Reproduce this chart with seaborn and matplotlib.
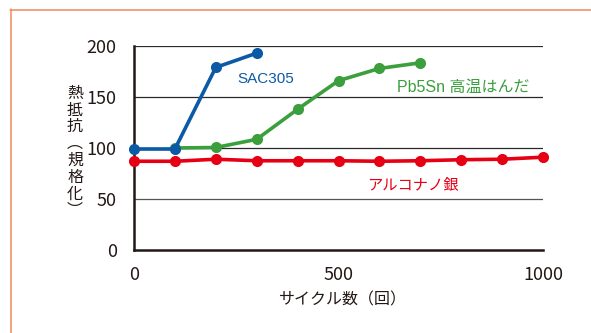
import matplotlib
matplotlib.use("Agg")
import matplotlib.pyplot as plt
from matplotlib.lines import Line2D
import seaborn as sns
import pandas as pd

# Thermal resistance (normalized) versus number of thermal cycles
sac_cycles = [0, 100, 200, 300]
sac_values = [99, 99, 179, 193]

pb_cycles = [100, 200, 300, 400, 500, 600, 700]
pb_values = [100, 100.5, 108.5, 138, 166, 178, 183.5]

ag_cycles = [0, 100, 200, 300, 400, 500, 600, 700, 800, 900, 1000]
ag_values = [87, 87, 89, 87.5, 87.5, 87.5, 87, 87.5, 88.5, 89, 91]

series_names = ["SAC305", "Pb5Sn 高温はんだ", "アルコナノ銀"]
series_colors = ["#0b5aa6", "#3a9f3c", "#e60014"]

x_ticks = [0, 500, 1000]
y_ticks = [0, 50, 100, 150, 200]
x_label = "サイクル数（回）"
y_label = "熱\n抵\n抗\n︵\n規\n格\n化\n︶"

df = pd.concat([
    pd.DataFrame({"cycles": sac_cycles, "value": sac_values, "series": series_names[0]}),
    pd.DataFrame({"cycles": pb_cycles, "value": pb_values, "series": series_names[1]}),
    pd.DataFrame({"cycles": ag_cycles, "value": ag_values, "series": series_names[2]}),
], ignore_index=True)

sns.set_style("white")
plt.rcParams["font.family"] = ["Noto Sans CJK JP", "DejaVu Sans"]

fig = plt.figure(figsize=(5.91, 3.33), dpi=100)
ax = fig.add_axes([134 / 591, 1 - 250 / 333, (543 - 134) / 591, (250 - 46) / 333])

# horizontal grid lines
for yv in y_ticks[1:]:
    ax.axhline(yv, color="#2a2a2a" if yv != 50 else "#555555", lw=0.9, zorder=0)

sns.lineplot(data=df, x="cycles", y="value", hue="series",
             hue_order=series_names, palette=series_colors,
             marker="o", markersize=8, markeredgewidth=0, linewidth=2.6,
             legend=False, ax=ax)
# SAC305 sits on top of the other two curves
for ln, z in zip(ax.lines[-3:], [5, 4, 3]):
    ln.set_clip_on(False)
    ln.set_zorder(z)

ax.set_xlim(0, 1000)
ax.set_ylim(0, 200)
ax.set_xticks(x_ticks)
ax.set_yticks(y_ticks)
ax.set_xlabel("")
ax.set_ylabel("")
for side in ["top", "right"]:
    ax.spines[side].set_visible(False)
for side in ["left", "bottom"]:
    ax.spines[side].set_color("#231815")
    ax.spines[side].set_linewidth(1.8)
ax.tick_params(axis="y", length=0, pad=12.5, labelsize=13, labelcolor="#231815")
ax.tick_params(axis="x", direction="in", length=2.5, width=1.8, color="#231815",
               pad=11.5, labelsize=13, labelcolor="#231815")

lab_font = ["Liberation Sans", "Noto Sans CJK JP"]
ax.text(237 / 591, 1 - 79 / 333, series_names[0], transform=fig.transFigure,
        color=series_colors[0], fontsize=11, family=lab_font, va="center", ha="left")
ax.text(397 / 591, 1 - 87 / 333, series_names[1], transform=fig.transFigure,
        color=series_colors[1], fontsize=11.5, family=lab_font, va="center", ha="left")
ax.text(367 / 591, 1 - 185 / 333, series_names[2], transform=fig.transFigure,
        color=series_colors[2], fontsize=11, family=lab_font, va="center", ha="left")

fig.text(343 / 591, 1 - 300 / 333, x_label, ha="center", va="center",
         fontsize=11.5, color="#231815")
fig.text(75 / 591, 1 - 152 / 333, y_label, ha="center", va="center",
         fontsize=11.5, color="#231815", linespacing=0.98)

# thin orange frame along the left and top edges
frame_color = "#f08a5d"
fig.add_artist(Line2D([10.5 / 591, 10.5 / 591], [0, 1 - 9 / 333],
                      transform=fig.transFigure, color=frame_color, lw=1.1))
fig.add_artist(Line2D([10 / 591, 1], [1 - 9.5 / 333, 1 - 9.5 / 333],
                      transform=fig.transFigure, color=frame_color, lw=1.1))

fig.savefig("out.png", dpi=100)
